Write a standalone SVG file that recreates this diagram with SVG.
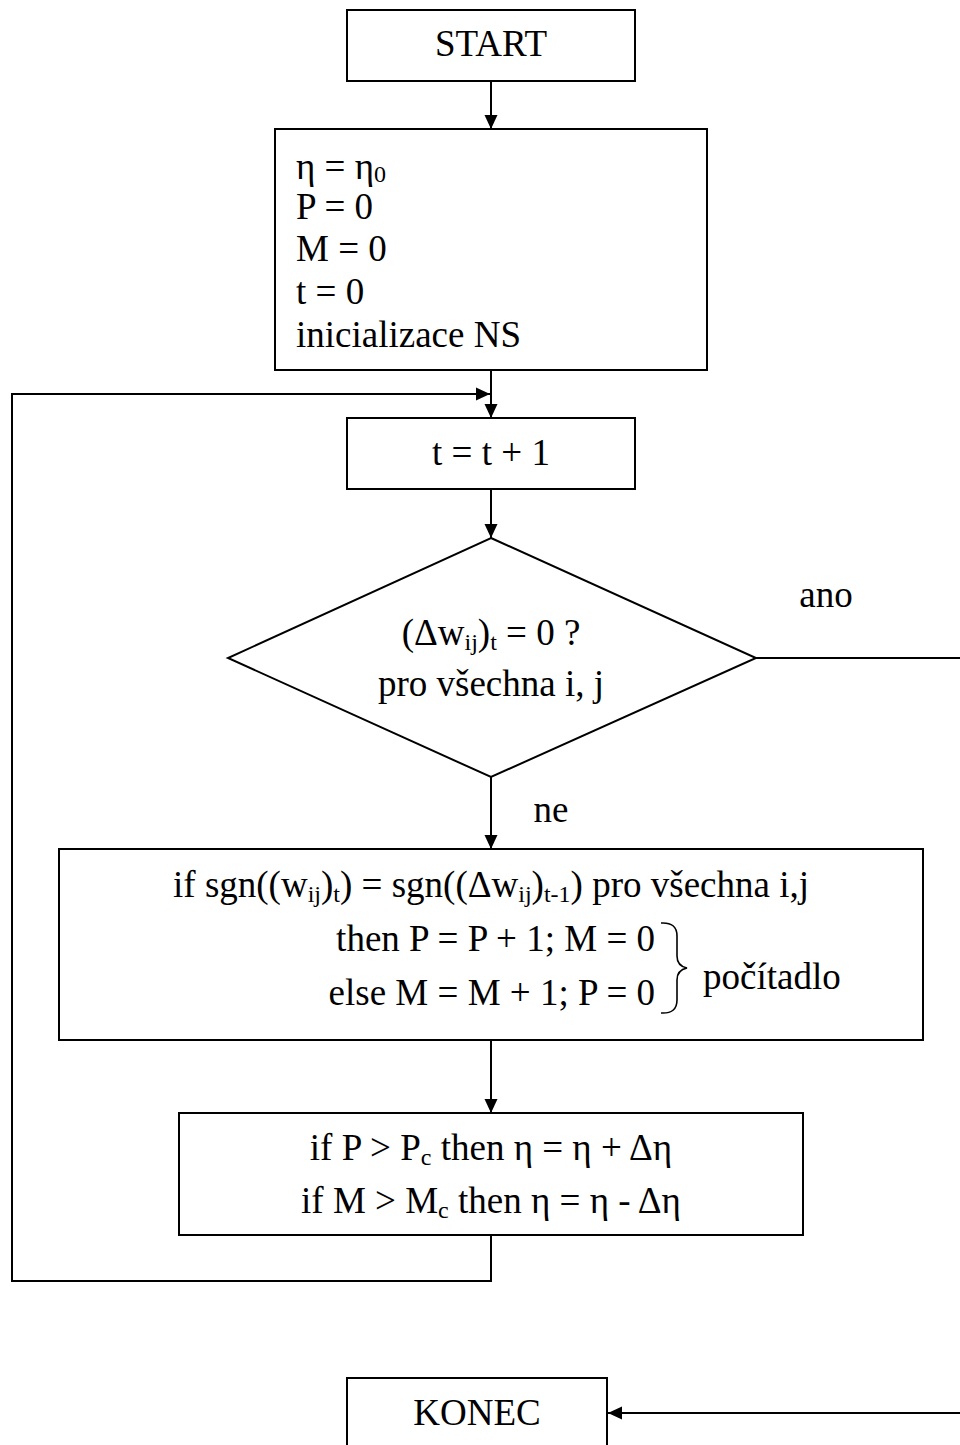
<svg xmlns="http://www.w3.org/2000/svg" width="960" height="1445" viewBox="0 0 960 1445">
<style>
.box{fill:#fff;stroke:#000;stroke-width:2}
.ln{fill:none;stroke:#000;stroke-width:2}
text{font-family:"Liberation Serif","Times New Roman",serif;font-size:37px;fill:#000}
.c{text-anchor:middle}
.sub{font-size:24px}
</style>
<defs>
<marker id="ah" viewBox="0 0 14 14" refX="14" refY="7" markerWidth="14" markerHeight="14" markerUnits="userSpaceOnUse" orient="auto">
<path d="M0,0.5 L14,7 L0,13.5 Z" fill="#000"/>
</marker>
</defs>
<rect width="960" height="1445" fill="#fff"/>
<g id="connectors">
<line class="ln" x1="491" y1="81" x2="491" y2="129" marker-end="url(#ah)"/>
<line class="ln" x1="491" y1="370" x2="491" y2="418" marker-end="url(#ah)"/>
<line class="ln" x1="491" y1="489" x2="491" y2="538" marker-end="url(#ah)"/>
<line class="ln" x1="491" y1="777" x2="491" y2="849" marker-end="url(#ah)"/>
<line class="ln" x1="491" y1="1040" x2="491" y2="1113" marker-end="url(#ah)"/>
<polyline class="ln" points="491,1235 491,1281 12,1281 12,394 490,394" marker-end="url(#ah)"/>
<line class="ln" x1="756" y1="658" x2="962" y2="658"/>
<line class="ln" x1="962" y1="1413" x2="608" y2="1413" marker-end="url(#ah)"/>
<text x="826" y="607" class="c">ano</text>
<text x="551" y="822" class="c">ne</text>
</g>
<g id="start">
<rect class="box" x="347" y="10" width="288" height="71"/>
<text x="491" y="56" class="c">START</text>
</g>
<g id="init">
<rect class="box" x="275" y="129" width="432" height="241"/>
<text x="296" y="179">η = η<tspan class="sub" dy="3">0</tspan></text>
<text x="296" y="219">P = 0</text>
<text x="296" y="261">M = 0</text>
<text x="296" y="304">t = 0</text>
<text x="296" y="347">inicializace NS</text>
</g>
<g id="inc">
<rect class="box" x="347" y="418" width="288" height="71"/>
<text x="491" y="465" class="c">t = t + 1</text>
</g>
<g id="decision">
<polygon class="box" points="491,538 756,658 491,777 228,658"/>
<text x="491" y="645" class="c">(Δw<tspan class="sub" dy="5">ij</tspan><tspan dy="-5">)</tspan><tspan class="sub" dy="5">t</tspan><tspan dy="-5"> = 0 ?</tspan></text>
<text x="491" y="696" class="c">pro všechna i, j</text>
</g>
<g id="counter">
<rect class="box" x="59" y="849" width="864" height="191"/>
<text x="491" y="897" class="c">if sgn((w<tspan class="sub" dy="5">ij</tspan><tspan dy="-5">)</tspan><tspan class="sub" dy="5">t</tspan><tspan dy="-5">) = sgn((Δw</tspan><tspan class="sub" dy="5">ij</tspan><tspan dy="-5">)</tspan><tspan class="sub" dy="5">t-1</tspan><tspan dy="-5">) pro všechna i,j</tspan></text>
<text x="655" y="951" text-anchor="end">then P = P + 1; M = 0</text>
<text x="655" y="1005" text-anchor="end">else M = M + 1; P = 0</text>
<path d="M661,923 Q677,922 677,936 L677,956 Q677,966 687,968 Q677,970 677,980 L677,1000 Q677,1014 661,1013" fill="none" stroke="#000" stroke-width="1.6"/>
<text x="703" y="989">počítadlo</text>
</g>
<g id="adjust">
<rect class="box" x="179" y="1113" width="624" height="122"/>
<text x="491" y="1160" class="c">if P &gt; P<tspan class="sub" dy="5">c</tspan><tspan dy="-5"> then η = η + Δη</tspan></text>
<text x="491" y="1213" class="c">if M &gt; M<tspan class="sub" dy="5">c</tspan><tspan dy="-5"> then η = η - Δη</tspan></text>
</g>
<g id="konec">
<rect class="box" x="347" y="1378" width="260" height="90"/>
<text x="477" y="1425" class="c">KONEC</text>
</g>
</svg>
